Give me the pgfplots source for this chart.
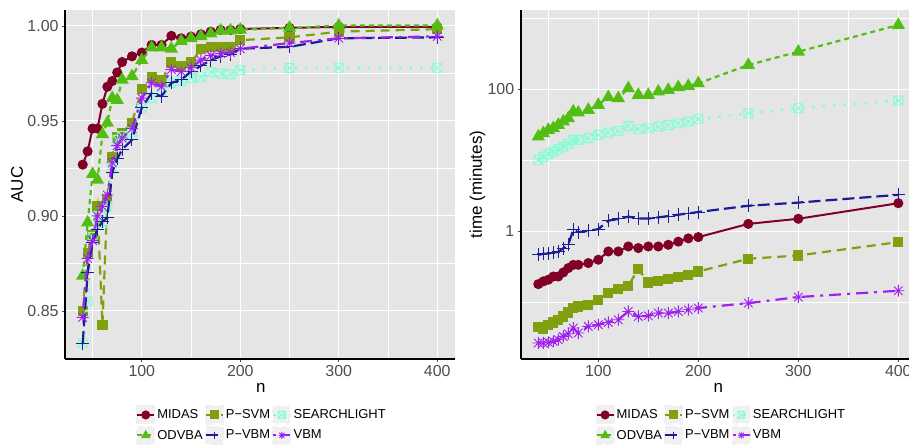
\documentclass[border=0pt]{standalone}
\usepackage{pgfplots}
\usepackage{pgfplotstable}
\pgfplotsset{compat=1.18}
\usepackage{fontspec}
\setmainfont{Liberation Sans}
\definecolor{panelbg}{HTML}{E5E5E5}
\definecolor{keybg}{HTML}{F0F0F0}
\definecolor{cmidas}{HTML}{800026}
\definecolor{codvba}{HTML}{52BE14}
\definecolor{cpsvm}{HTML}{80A010}
\definecolor{cpvbm}{HTML}{1C1C96}
\definecolor{csearch}{HTML}{7FFFD4}
\definecolor{cvbm}{HTML}{A020F0}
\definecolor{tickgrey}{HTML}{4D4D4D}

\pgfdeclareplotmark{boxx}{%
  \pgfpathrectangle{\pgfqpoint{-\pgfplotmarksize}{-\pgfplotmarksize}}{\pgfqpoint{2\pgfplotmarksize}{2\pgfplotmarksize}}%
  \pgfpathmoveto{\pgfqpoint{-\pgfplotmarksize}{-\pgfplotmarksize}}\pgfpathlineto{\pgfqpoint{\pgfplotmarksize}{\pgfplotmarksize}}%
  \pgfpathmoveto{\pgfqpoint{-\pgfplotmarksize}{\pgfplotmarksize}}\pgfpathlineto{\pgfqpoint{\pgfplotmarksize}{-\pgfplotmarksize}}%
  \pgfusepathqstroke}
\pgfdeclareplotmark{ast8}{%
  \pgfpathmoveto{\pgfqpoint{-\pgfplotmarksize}{0pt}}\pgfpathlineto{\pgfqpoint{\pgfplotmarksize}{0pt}}%
  \pgfpathmoveto{\pgfqpoint{0pt}{-\pgfplotmarksize}}\pgfpathlineto{\pgfqpoint{0pt}{\pgfplotmarksize}}%
  \pgfpathmoveto{\pgfqpoint{-0.7071\pgfplotmarksize}{-0.7071\pgfplotmarksize}}\pgfpathlineto{\pgfqpoint{0.7071\pgfplotmarksize}{0.7071\pgfplotmarksize}}%
  \pgfpathmoveto{\pgfqpoint{-0.7071\pgfplotmarksize}{0.7071\pgfplotmarksize}}\pgfpathlineto{\pgfqpoint{0.7071\pgfplotmarksize}{-0.7071\pgfplotmarksize}}%
  \pgfusepathqstroke}

\pgfplotstableread{
n midas odvba psvm pvbm search vbm
40 0.927 0.8685 0.850 0.833 0.833 0.8466
45 0.934 0.8965 0.8807 0.870 0.855 0.8776
50 0.946 0.922 0.890 0.886 0.889 0.887
55 0.946 0.919 0.905 0.893 0.900 0.900
60 0.959 0.943 0.8426 0.897 0.896 0.905
65 0.968 0.949 0.909 0.899 0.905 0.911
70 0.971 0.962 0.931 0.923 0.925 0.928
75 0.9755 0.961 0.9416 0.930 0.940 0.937
80 0.981 0.9717 0.9437 0.935 0.942 0.941
90 0.984 0.9735 0.949 0.940 0.944 0.946
100 0.986 0.982 0.967 0.957 0.957 0.962
110 0.990 0.9886 0.9729 0.9647 0.962 0.970
120 0.990 0.9886 0.9713 0.963 0.965 0.968
130 0.9948 0.988 0.9808 0.970 0.970 0.977
140 0.9935 0.992 0.979 0.9717 0.971 0.976
150 0.9944 0.9935 0.9808 0.976 0.9725 0.978
160 0.9956 0.9946 0.9878 0.979 0.973 0.982
170 0.997 0.996 0.9891 0.982 0.9757 0.9845
180 0.9979 0.9975 0.9891 0.984 0.975 0.9855
190 0.9979 0.9976 0.9891 0.985 0.9745 0.986
200 0.9984 0.998 0.9925 0.988 0.9768 0.988
250 0.999 0.999 0.994 0.989 0.9778 0.991
300 0.9995 1.0002 0.997 0.9935 0.978 0.9935
400 0.9995 1.0002 0.9983 0.994 0.978 0.9945
}\auctab

\pgfplotstableread{
n midas odvba psvm pvbm search vbm
40 0.182 21.6 0.0449 0.47 10.2 0.0271
45 0.199 24.1 0.0426 0.485 11.3 0.0271
50 0.21 26.8 0.049 0.49 12.3 0.0276
55 0.233 28.3 0.0527 0.50 13.3 0.0285
60 0.233 31.5 0.0575 0.52 14.4 0.0301
65 0.266 35.1 0.064 0.58 15.6 0.0335
70 0.306 39.1 0.0728 0.65 17.1 0.0366
75 0.340 48.5 0.084 1.06 19.4 0.044
80 0.340 46.9 0.0885 0.98 19.4 0.0374
90 0.36 51.2 0.0935 1.02 20.5 0.0463
100 0.401 60.2 0.11 1.08 22.8 0.049
110 0.524 77.3 0.136 1.42 24.6 0.0527
120 0.524 74.7 0.155 1.50 25.9 0.0575
130 0.616 103 0.173 1.62 30.5 0.0752
140 0.585 83.2 0.296 1.52 27.4 0.064
150 0.616 83.2 0.192 1.52 28.3 0.0655
160 0.616 92.5 0.199 1.58 29.8 0.0714
170 0.65 97.8 0.214 1.65 31.5 0.0714
180 0.72 106.7 0.229 1.72 33.3 0.0752
190 0.80 111 0.247 1.80 35.1 0.0795
200 0.834 121 0.274 1.88 37.9 0.084
250 1.28 219 0.414 2.30 46 0.0986
300 1.51 337 0.46 2.55 54.1 0.1198
400 2.5 800 0.71 3.28 69.2 0.147
}\timetab

\pgfplotsset{
  sMIDAS/.style={color=cmidas, solid, line width=2pt, mark=*, mark size=4bp, mark options={solid}},
  sODVBA/.style={color=codvba, dash pattern=on 5bp off 4bp, line width=2.2pt, mark=triangle*, mark size=5.5bp, mark options={solid}},
  sPSVM/.style={color=cpsvm, dash pattern=on 9bp off 6bp, line width=2.2pt, mark=square*, mark size=4bp, mark options={solid}},
  sPVBM/.style={color=cpvbm, dash pattern=on 12bp off 5bp, line width=2.2pt, mark=+, mark size=6.5bp, mark options={solid, line width=1pt}},
  sSEARCH/.style={color=csearch, dash pattern=on 2.5bp off 8bp, line width=2.5pt, mark=boxx, mark size=4.5bp, mark options={solid, line width=0.9pt}},
  sVBM/.style={color=cvbm, dash pattern=on 3bp off 6bp on 12bp off 6bp, line width=2.2pt, mark=ast8, mark size=6bp, mark options={solid, line width=0.9pt}},
  gg/.style={
    scale only axis,
    height=349bp,
    axis background/.style={fill=panelbg},
    axis x line*=bottom, axis y line*=left,
    axis line style={black, line width=1.6pt, -},
    grid=both,
    major grid style={white, line width=1.1pt},
    minor grid style={white, line width=0.55pt},
    tick align=outside,
    major tick length=3bp,
    minor tick length=0pt,
    tick style={tickgrey, line width=0.8pt},
    ticklabel style={font=\fontsize{16}{18}\selectfont, text=tickgrey},
    label style={font=\fontsize{17}{20}\selectfont},
    /pgf/number format/assume math mode=true,
    xtick={100,200,300,400},
    minor xtick={50,150,250,350},
    clip mode=individual,
    legend cell align=left,
    legend image code/.code={%
      \fill[keybg] (0bp,-8.5bp) rectangle (17bp,8.5bp);
      \draw[mark repeat=2,mark phase=2,##1,mark size=3.5bp,line width=2pt] plot coordinates {(0bp,0bp) (8.5bp,0bp) (17bp,0bp)};},
    legend style={draw=none, fill=none, legend columns=3,
      font=\fontsize{13}{15}\selectfont, row sep=1bp, inner sep=0pt,
      nodes={inner sep=2bp},
      /tikz/every even column/.append style={column sep=0bp}},
  },
}

\begin{document}
\begin{tikzpicture}[x=1bp,y=1bp]
\useasboundingbox (0,0) rectangle (909,445);
\begin{axis}[gg,
  at={(65bp,86bp)}, anchor=south west,
  width=390bp,
  xmin=22, xmax=418, ymin=0.8247, ymax=1.0084,
  ytick={0.85,0.90,0.95,1.00},
  yticklabels={0.85,0.90,0.95,1.00},
  minor ytick={0.875,0.925,0.975},
  xlabel={n}, ylabel={AUC},
  xlabel style={at={(axis description cs:0.502,-0.084)}, anchor=center},
  ylabel style={at={(axis description cs:-0.123,0.5)}, anchor=center},
  legend style={at={(0.505,-0.1318)}, anchor=north},
]
\addplot[sMIDAS] table[x=n,y=midas] {\auctab}; \addlegendentry{MIDAS}
\addplot[sPSVM] table[x=n,y=psvm] {\auctab}; \addlegendentry{P−SVM}
\addplot[sSEARCH] table[x=n,y=search] {\auctab}; \addlegendentry{SEARCHLIGHT}
\addplot[sODVBA] table[x=n,y=odvba] {\auctab}; \addlegendentry{ODVBA}
\addplot[sPVBM] table[x=n,y=pvbm] {\auctab}; \addlegendentry{P−VBM}
\addplot[sVBM] table[x=n,y=vbm] {\auctab}; \addlegendentry{VBM}
\end{axis}
\begin{axis}[gg,
  at={(520.7bp,86bp)}, anchor=south west,
  width=388.3bp,
  xmin=22.4, xmax=410.7, ymode=log, ymin=0.01614, ymax=1300,
  ytick={1,100}, yticklabels={1,100},
  minor ytick={0.1,10,1000},
  xlabel={n}, ylabel={time (minutes)},
  xlabel style={at={(axis description cs:0.509,-0.084)}, anchor=center},
  ylabel style={at={(axis description cs:-0.111,0.5)}, anchor=center},
  legend style={at={(0.5166,-0.1318)}, anchor=north},
]
\addplot[sMIDAS] table[x=n,y=midas] {\timetab}; \addlegendentry{MIDAS}
\addplot[sPSVM] table[x=n,y=psvm] {\timetab}; \addlegendentry{P−SVM}
\addplot[sSEARCH] table[x=n,y=search] {\timetab}; \addlegendentry{SEARCHLIGHT}
\addplot[sODVBA] table[x=n,y=odvba] {\timetab}; \addlegendentry{ODVBA}
\addplot[sPVBM] table[x=n,y=pvbm] {\timetab}; \addlegendentry{P−VBM}
\addplot[sVBM] table[x=n,y=vbm] {\timetab}; \addlegendentry{VBM}
\end{axis}
\end{tikzpicture}
\end{document}
